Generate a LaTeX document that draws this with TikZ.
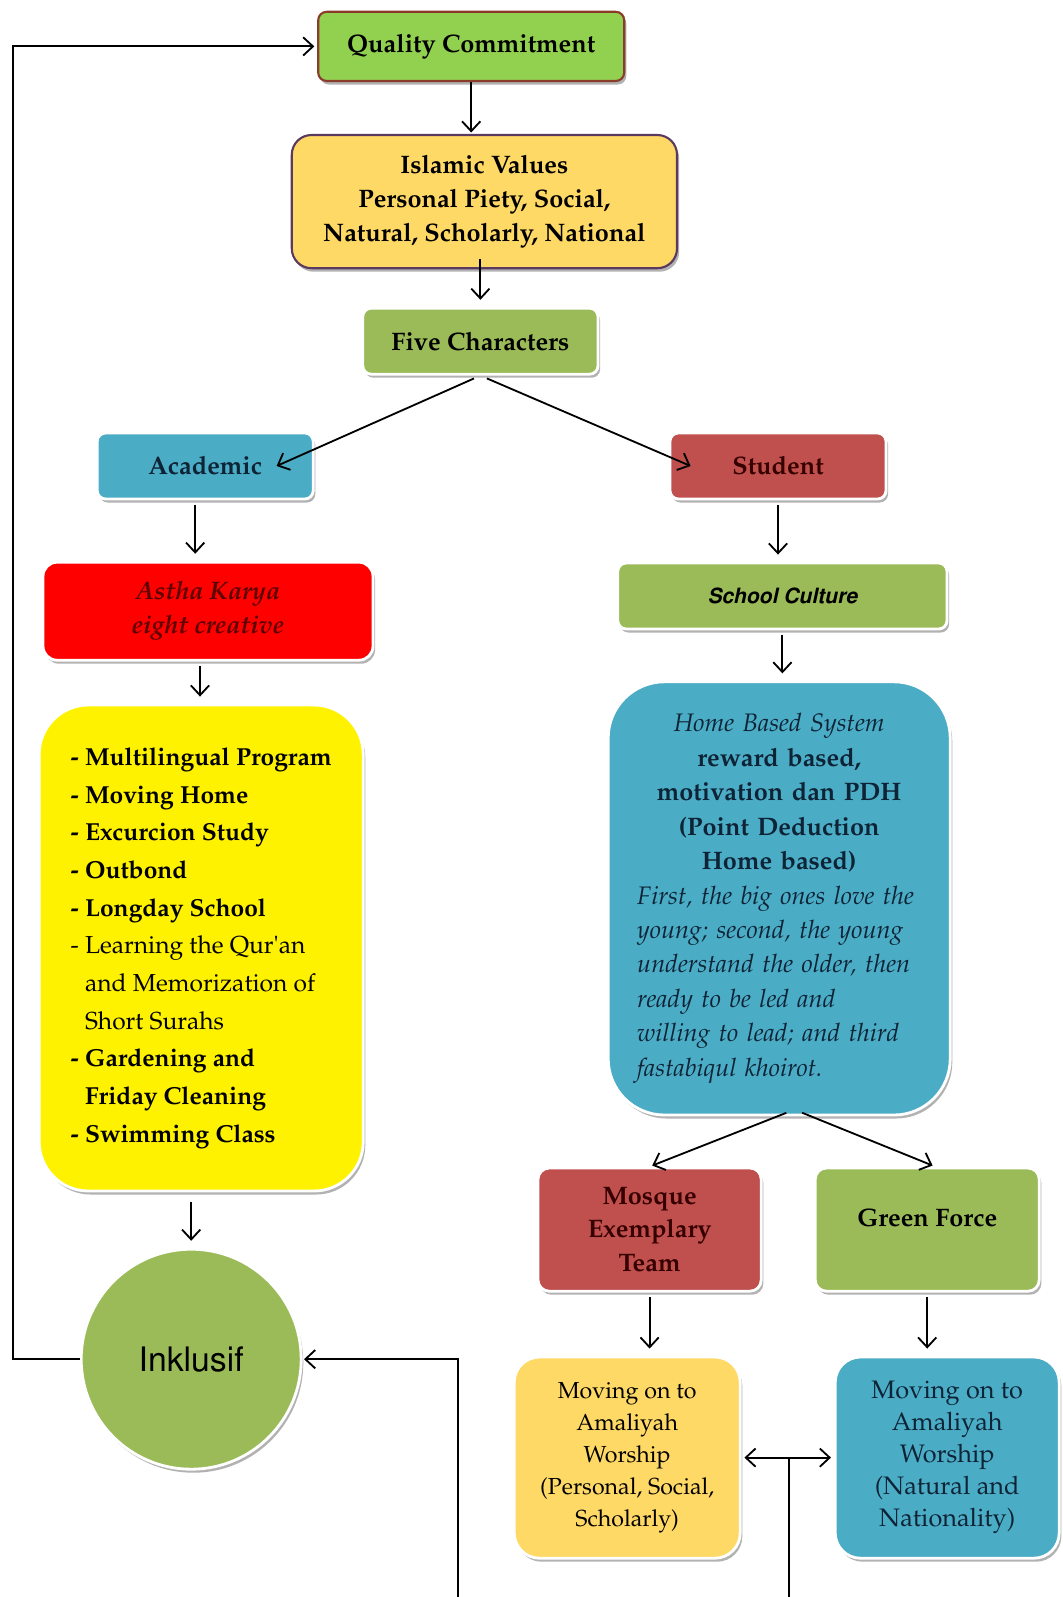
\documentclass[tikz,border=0pt]{standalone}
\usepackage[T1]{fontenc}
\renewcommand{\rmdefault}{ppl}
\usetikzlibrary{shadows,arrows.meta}

\definecolor{qcgreen}{HTML}{92D050}
\definecolor{qcborder}{HTML}{8A3B2A}
\definecolor{ivorange}{HTML}{FFD966}
\definecolor{ivborder}{HTML}{5A3A5E}
\definecolor{charolive}{HTML}{9BBB59}
\definecolor{skyblue}{HTML}{4BACC6}
\definecolor{brickred}{HTML}{C0504D}
\definecolor{darkred}{HTML}{5C0000}
\definecolor{navytext}{HTML}{0E2436}

\tikzset{
  box/.style={rounded corners=6pt, draw=white, line width=2pt,
    drop shadow={shadow xshift=1.5pt, shadow yshift=-2.5pt, opacity=0.3, fill=black},
    font=\fontsize{18}{24}\selectfont\bfseries, align=center, inner sep=4pt},
  flow/.style={-{Straight Barb[length=7pt,width=13pt]}, line width=1.3pt,
    shorten <=3pt, shorten >=5pt},
}

\begin{document}
\begin{tikzpicture}

\useasboundingbox (0,0) rectangle (26.55,-39.925);

\node[box, fill=qcgreen, draw=qcborder, line width=1.5pt, minimum width=7.65cm, minimum height=1.73cm] (qc) at (11.78,-1.16) {Quality Commitment};

\node[box, fill=ivorange, draw=ivborder, line width=1.5pt, rounded corners=14pt, minimum width=9.63cm, minimum height=3.33cm] (iv) at (12.11,-5.04) {Islamic Values\\Personal Piety, Social,\\Natural, Scholarly, National};

\node[box, fill=charolive, minimum width=5.88cm, minimum height=1.65cm] (five) at (12.01,-8.53) {Five Characters};

\node[box, fill=skyblue, text=navytext, minimum width=5.4cm, minimum height=1.65cm] (acad) at (5.13,-11.65) {Academic};

\node[box, fill=brickred, text=darkred!60!black, minimum width=5.4cm, minimum height=1.65cm] (stud) at (19.45,-11.65) {Student};

\node[box, fill=red, text=darkred, rounded corners=10pt, font=\fontsize{18}{24}\selectfont\bfseries\itshape, minimum width=8.25cm, minimum height=2.45cm] (astha) at (5.2,-15.28) {Astha Karya\\eight creative};

\node[box, fill=yellow, rounded corners=35pt, align=left, font=\fontsize{17.5}{26.8}\selectfont, minimum width=8.1cm, minimum height=12.15cm] (list) at (5.03,-23.7) {\textbf{- Multilingual Program}\\\textbf{- Moving Home}\\\textbf{- Excurcion Study}\\\textbf{- Outbond}\\\textbf{- Longday School}\\- Learning the Qur\textquotesingle an\\\phantom{- }and Memorization of\\\phantom{- }Short Surahs\\\textbf{- Gardening and}\\\textbf{\phantom{- }Friday Cleaning}\\\textbf{- Swimming Class}};

\node[box, circle, fill=charolive, font=\fontfamily{phv}\fontsize{24}{28}\selectfont, minimum size=5.5cm, inner sep=0pt] (inkl) at (4.78,-33.98) {Inklusif};

\node[box, fill=charolive, font=\fontfamily{phv}\fontsize{15}{18}\selectfont\bfseries\itshape, minimum width=8.23cm, minimum height=1.65cm] (cult) at (19.56,-14.9) {School Culture};

\node[box, fill=skyblue, text=navytext, rounded corners=40pt, font=\fontsize{18}{24.5}\selectfont, text width=7.1cm, minimum width=8.55cm, minimum height=10.83cm] (home) at (19.48,-22.46) {{\centering\textit{Home Based System}\\\textbf{reward based,}\\\textbf{motivation dan PDH}\\\textbf{(Point Deduction}\\\textbf{Home based)}\par}{\raggedright\itshape First, the big ones love the\\young; second, the young\\understand the older, then\\ready to be led and\\willing to lead; and third\\fastabiqul khoirot.\par}};

\node[box, fill=brickred, text=darkred!60!black, rounded corners=8pt, minimum width=5.58cm, minimum height=3.08cm] (mosq) at (16.24,-30.74) {Mosque\\Exemplary\\Team};

\node[box, fill=charolive, rounded corners=8pt, text depth=0.6cm, minimum width=5.6cm, minimum height=3.08cm] (green) at (23.18,-30.74) {Green Force};

\node[box, fill=ivorange, rounded corners=18pt, font=\fontsize{16.5}{22.8}\selectfont, minimum width=5.65cm, minimum height=5.03cm] (mov1) at (15.68,-36.44) {Moving on to\\Amaliyah\\Worship\\(Personal, Social,\\Scholarly)};

\node[box, fill=skyblue, text=navytext, rounded corners=18pt, font=\fontsize{18}{22.8}\selectfont, minimum width=5.6cm, minimum height=5.03cm] (mov2) at (23.68,-36.44) {Moving on to\\Amaliyah\\Worship\\(Natural and\\Nationality)};

\coordinate (lowA) at (11.45,-39.925);
\coordinate (lowB) at (19.72,-39.925);

\draw[flow, shorten <=0pt, shorten >=1pt] (qc.south) -- (qc.south |- iv.north);
\draw[flow, shorten <=-7pt] (five.north |- iv.south) -- (five.north);
\draw[flow, shorten <=5pt, shorten >=0pt] (five.south) -- ([xshift=-0.95cm]acad.east);
\draw[flow, shorten <=5pt, shorten >=0pt] (five.south) -- ([xshift=0.55cm]stud.west);
\draw[flow] ([xshift=-0.25cm]acad.south) -- ([xshift=-0.25cm]acad.south |- astha.north);
\draw[flow] ([xshift=-0.2cm]astha.south) -- ([xshift=-0.2cm]astha.south |- list.north);
\draw[flow, shorten <=7pt] (list.south -| inkl.north) -- (inkl.north);
\draw[flow] (stud.south) -- (stud.south |- cult.north);
\draw[flow] (cult.south) -- (cult.south |- home.north);
\draw[flow, shorten <=-7pt, shorten >=2pt] ([xshift=-0.05cm]home.south) -- (mosq.north);
\draw[flow, shorten <=-7pt, shorten >=2pt] ([xshift=0.8cm]home.south) -- ([xshift=0.2cm]green.north);
\draw[flow] (mosq) -- (mosq |- mov1.north);
\draw[flow] (green) -- (green |- mov2.north);
\draw[flow, {Straight Barb[length=7pt,width=13pt]}-{Straight Barb[length=7pt,width=13pt]}, shorten <=2pt, shorten >=2pt] (mov1) -- (mov2);
\draw[line width=1.3pt] (lowB) -- (lowB |- mov1);
\draw[flow, shorten <=0pt, shorten >=1pt] (lowA) |- (inkl.east);
\draw[flow, shorten <=0pt, shorten >=2pt] (inkl.west) -- ++(-1.68,0) |- (qc.west);

\end{tikzpicture}
\end{document}
